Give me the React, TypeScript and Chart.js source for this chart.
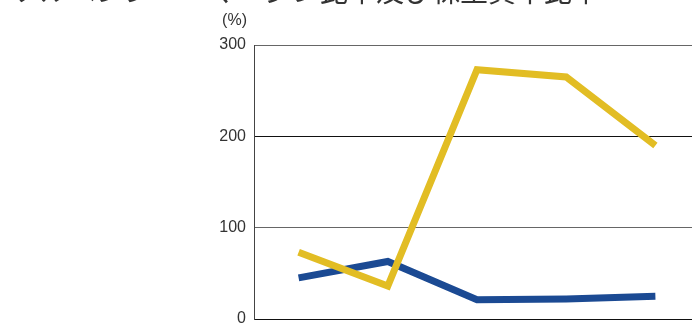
import React, { useEffect, useRef } from "react";
import { Chart, registerables } from "chart.js";

Chart.register(...registerables);

// Fiscal-year slots along the x axis (labels sit below the visible area)
const categories = ["2019", "2020", "2021", "2022", "2023"];
// Solvency margin ratio (%)
const solvencyRatio = [73, 36, 273, 265, 190];
// Shareholders' equity ratio (%)
const equityRatio = [45, 63, 21, 22, 25];
const yTicks = [0, 100, 200, 300];

const TITLE = "ソルベンシー・マージン比率及び株主資本比率";
const UNIT = "(%)";

const CANVAS_W = 710;
const CANVAS_H = 340;

const headerPlugin = {
  id: "header",
  afterDraw(chart: any) {
    const { ctx } = chart;
    ctx.save();
    ctx.fillStyle = "#333";
    ctx.font = '28px "Noto Sans CJK JP"';
    ctx.textAlign = "left";
    ctx.textBaseline = "alphabetic";
    ctx.fillText(TITLE, 12, 2);
    ctx.font = '16px "Liberation Sans"';
    ctx.textAlign = "right";
    ctx.textBaseline = "middle";
    ctx.fillText(UNIT, 247, 21);
    ctx.restore();
  },
};

export default function App() {
  const ref = useRef<HTMLCanvasElement | null>(null);

  useEffect(() => {
    if (!ref.current) return;
    const chart = new Chart(ref.current, {
      type: "line",
      data: {
        labels: categories,
        datasets: [
          {
            label: "ソルベンシー・マージン比率",
            data: solvencyRatio,
            borderColor: "#e2bd24",
            backgroundColor: "#e2bd24",
            borderWidth: 7,
            borderCapStyle: "butt",
            borderJoinStyle: "miter",
            pointRadius: 0,
            tension: 0,
          },
          {
            label: "株主資本比率",
            data: equityRatio,
            borderColor: "#1b4a93",
            backgroundColor: "#1b4a93",
            borderWidth: 7,
            borderCapStyle: "butt",
            borderJoinStyle: "miter",
            pointRadius: 0,
            tension: 0,
          },
        ],
      },
      options: {
        responsive: false,
        animation: false,
        devicePixelRatio: 1,
        layout: { padding: { left: 0, top: 45, right: 10, bottom: 21 } },
        plugins: {
          legend: { display: false },
          tooltip: { enabled: false },
          title: { display: false },
        },
        scales: {
          x: {
            type: "category",
            offset: true,
            display: false,
          },
          y: {
            min: 0,
            max: 300,
            afterFit: (scale: any) => {
              scale.width = 254;
            },
            afterBuildTicks: (scale: any) => {
              scale.ticks = yTicks.map((v) => ({ value: v }));
            },
            border: { display: true, color: "#444", width: 1 },
            grid: {
              drawTicks: false,
              color: (c: any) =>
                c.tick && (c.tick.value === 100 || c.tick.value === 300) ? "#666" : "#111",
              lineWidth: 1,
            },
            ticks: {
              padding: 8,
              color: "#333",
              font: { family: "Liberation Sans", size: 16 },
            },
          },
        },
      },
      plugins: [headerPlugin],
    });
    return () => chart.destroy();
  }, []);

  return (
    <div
      style={{
        position: "fixed",
        left: 0,
        top: 0,
        width: 692,
        height: 326,
        overflow: "hidden",
        background: "#fff",
      }}
    >
      <canvas
        ref={ref}
        width={CANVAS_W}
        height={CANVAS_H}
        style={{ width: CANVAS_W, height: CANVAS_H, display: "block" }}
      />
    </div>
  );
}
